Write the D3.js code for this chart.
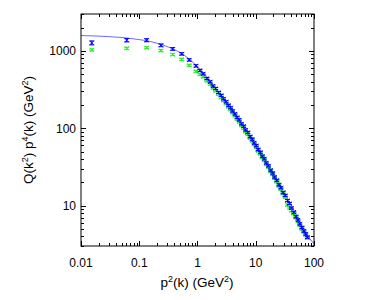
<!DOCTYPE html>
<html><head><meta charset="utf-8">
<script src="https://cdn.jsdelivr.net/npm/d3@7"></script>
<style>body{margin:0;background:#fff}svg{display:block}text{font-family:"Liberation Sans",Arial,sans-serif;fill:#000}</style>
</head><body><svg id="c" width="369" height="300"></svg>
<script>
const xTickLabels = ["0.01","0.1","1","10","100"];
const yTickLabels = ["10","100","1000"];
const dataX = [0.0153,0.061,0.134,0.236,0.375,0.535,0.72,0.94,1.1,1.25,1.45,1.65,1.85,2.05,2.3,2.55,2.8,3.1,3.4,3.7,4.0,4.4,4.8,5.2,5.7,6.2,6.7,7.3,8.0,8.7,9.4,10.2,11,12,13,14,15.2,16.5,18,19.5,21,23,25,27,29.5,32,35,38,41,45,49,53,57,62,67,72,77];
const blueY = [1270,1375,1375,1180,1060,915,764,640,560,505,440,398,352,326,290,266,240,220,198,184,167,153,138,128,114,106,95,88,78,72,64.5,59.5,53,48.8,43.5,40.2,35.6,32.6,28.7,26.3,23.4,21.2,18.6,17.0,14.8,13.5,11.6,10.6,9.3,8.2,7.2,6.5,5.8,5.2,4.7,4.3,3.9];
const blueErrPct = [6,5,4.5,4,4,3.5,3.5,3.5,3,3,3,3,3,3,3,3,3,3,3,3,3,3,3,3,3,3,3,3,3,3,3,3,3,3,3,3,3,3,3,3,3,3,3,3,3,3,3,3,3,3,3,3,3,3,3,3,3];
const greenY = [1030,1080,1100,1009,896,778,651,545,500,462,410,372,333,305,275,250,228,208,189,175,159,145,131,121,109,100,91,84,75,69,62,57,51,46.8,42,38.6,34.2,31.4,27.7,25.3,22.6,20.4,18.0,16.3,14.3,12.9,10.2,9.3,8.6,7.9,7.0,6.3,5.6,5.0,4.6,4.2,3.8];
const greenErrPct = [3,3,3,3,3,3,3,3,3,3,3,3,3,3,3,3,3,3,3,3,3,3,3,3,3,3,3,3,3,3,3,3,3,3,3,3,3,3,3,3,3,3,3,3,3,3,3,3,3,3,3,3,3,3,3,3,3];
const fitX = [0.01,0.03,0.06,0.1,0.15,0.2,0.3,0.5,0.7,1,1.5,2,3,5,7,10,15,20,30,50,70,100];
const fitY = [1580,1530,1470,1400,1330,1260,1140,950,800,625,450,335,226,133,90,60,36.5,25.5,15,7.6,4.6,3.2];

const L=81,R=314,T=14,B=246;
const svg=d3.select("#c");
const x=d3.scaleLog().domain([0.01,100]).range([L,R]);
const y=d3.scaleLog().domain([3,3000]).range([B,T]);

// fit line
const clip=svg.append("clipPath").attr("id","cp").append("rect").attr("x",L).attr("y",T).attr("width",R-L).attr("height",B-T);
svg.append("path").datum(fitX.map((d,i)=>[d,fitY[i]]))
  .attr("clip-path","url(#cp)")
  .attr("d",d3.line().x(d=>x(d[0])).y(d=>y(d[1])).curve(d3.curveMonotoneX))
  .attr("fill","none").attr("stroke","#4444ff").attr("stroke-width",0.8);

function series(ys,errs,color){
  const g=svg.append("g").attr("stroke",color).attr("stroke-width",1).attr("fill","none");
  dataX.forEach((xv,i)=>{
    const cx=x(xv), cy=y(ys[i]);
    const e=ys[i]*errs[i]/100;
    const y1=y(ys[i]+e), y2=y(ys[i]-e);
    g.append("line").attr("x1",cx).attr("x2",cx).attr("y1",y1).attr("y2",y2);
    g.append("line").attr("x1",cx-2.5).attr("x2",cx+2.5).attr("y1",y1).attr("y2",y1);
    g.append("line").attr("x1",cx-2.5).attr("x2",cx+2.5).attr("y1",y2).attr("y2",y2);
    g.append("path").attr("d",`M${cx-2},${cy-2}L${cx+2},${cy+2}M${cx-2},${cy+2}L${cx+2},${cy-2}`);
  });
}
series(greenY,greenErrPct,"#22ee22");
series(blueY,blueErrPct,"#0000ff");

// frame and ticks
const ax=svg.append("g").attr("stroke","#000").attr("stroke-width",1);
ax.append("rect").attr("x",L).attr("y",T).attr("width",R-L).attr("height",B-T).attr("fill","none");
const isMajor=v=>Math.abs(Math.log10(v)-Math.round(Math.log10(v)))<1e-6;
x.ticks().forEach(v=>{
  const px=Math.round(x(v))+0.5, len=isMajor(v)?5:3;
  ax.append("line").attr("x1",px).attr("x2",px).attr("y1",B).attr("y2",B-len);
  ax.append("line").attr("x1",px).attr("x2",px).attr("y1",T).attr("y2",T+len);
});
y.ticks().forEach(v=>{
  const py=Math.round(y(v))+0.5, len=isMajor(v)?5:3;
  ax.append("line").attr("x1",L).attr("x2",L+len).attr("y1",py).attr("y2",py);
  ax.append("line").attr("x1",R).attr("x2",R-len).attr("y1",py).attr("y2",py);
});
xTickLabels.forEach(t=>{
  svg.append("text").attr("x",x(+t)).attr("y",267).attr("text-anchor","middle").attr("font-size",12).text(t);
});
yTickLabels.forEach(t=>{
  svg.append("text").attr("x",76).attr("y",y(+t)+4.5).attr("text-anchor","end").attr("font-size",12).text(t);
});
// axis titles
const xt=svg.append("text").attr("x",197).attr("y",287).attr("text-anchor","middle").attr("font-size",13.5);
xt.append("tspan").text("p");
xt.append("tspan").attr("dy",-5).attr("font-size",9).text("2");
xt.append("tspan").attr("dy",5).text("(k) (GeV");
xt.append("tspan").attr("dy",-5).attr("font-size",9).text("2");
xt.append("tspan").attr("dy",5).text(")");
const yt=svg.append("text").attr("transform","translate(33,130) rotate(-90)").attr("text-anchor","middle").attr("font-size",13.5);
yt.append("tspan").text("Q(k");
yt.append("tspan").attr("dy",-5).attr("font-size",9).text("2");
yt.append("tspan").attr("dy",5).text(") p");
yt.append("tspan").attr("dy",-5).attr("font-size",9).text("4");
yt.append("tspan").attr("dy",5).text("(k) (GeV");
yt.append("tspan").attr("dy",-5).attr("font-size",9).text("2");
yt.append("tspan").attr("dy",5).text(")");
</script></body></html>
